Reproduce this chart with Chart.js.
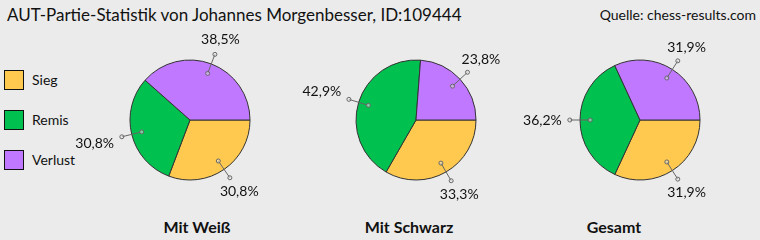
<!DOCTYPE html>
<html><head><meta charset="utf-8">
<script src="https://cdn.jsdelivr.net/npm/chart.js@4/dist/chart.umd.min.js"></script>
<style>
html,body{margin:0;padding:0;background:#ebebeb;width:760px;height:240px;overflow:hidden;font-family:Lato,"Open Sans",sans-serif;color:#111}
.abs{position:absolute;white-space:nowrap}
#title{left:7px;top:4px;font-size:17px;}
#source{right:4px;top:6px;font-size:14px;}
.cap{font-size:16px;font-weight:bold;top:217px;transform:translateX(-50%)}
.lg{left:4px;width:20px;height:20px;box-sizing:border-box;border:1px solid #111}
.lt{left:32px;font-size:14px;line-height:20px}
canvas{position:absolute}
</style></head>
<body>
<div id="title" class="abs">AUT-Partie-Statistik von Johannes Morgenbesser, ID:109444</div>
<div id="source" class="abs">Quelle: chess-results.com</div>
<div id="legend"></div>
<div id="caps"></div>
<div id="wrap"></div>
<script>
const categories = ['Sieg', 'Remis', 'Verlust'];
const chartTitles = ['Mit Weiß', 'Mit Schwarz', 'Gesamt'];
const weissValues = [30.8, 30.8, 38.5];
const schwarzValues = [33.3, 42.9, 23.8];
const gesamtValues = [31.9, 36.2, 31.9];
const colors = ['#FFC94F', '#00C04F', '#BF78FF'];

const seriesList = [weissValues, schwarzValues, gesamtValues];
const pieCenters = [190, 416, 640];
const captionCenters = [197, 409, 614];
const pieCY = 120, CW = 260, CH = 220;

// legend
const legend = document.getElementById('legend');
categories.forEach((c, i) => {
  const b = document.createElement('div');
  b.className = 'abs lg'; b.style.top = (70 + i * 40) + 'px'; b.style.background = colors[i];
  legend.appendChild(b);
  const t = document.createElement('div');
  t.className = 'abs lt'; t.style.top = (70 + i * 40) + 'px'; t.textContent = c;
  legend.appendChild(t);
});
// captions
const caps = document.getElementById('caps');
chartTitles.forEach((c, i) => {
  const d = document.createElement('div');
  d.className = 'abs cap'; d.style.left = captionCenters[i] + 'px'; d.textContent = c;
  caps.appendChild(d);
});

const fmt = v => v.toFixed(1).replace('.', ',') + '%';

const leaderLabels = {
  id: 'leaderLabels',
  afterDatasetsDraw(chart) {
    const ctx = chart.ctx;
    const meta = chart.getDatasetMeta(0);
    const ds = chart.data.datasets[0];
    ctx.save();
    ctx.font = '14px Lato, "Open Sans", sans-serif';
    meta.data.forEach((arc, i) => {
      const p = arc.getProps(['x', 'y', 'startAngle', 'endAngle', 'outerRadius'], true);
      const mid = (p.startAngle + p.endAngle) / 2;
      const c = Math.cos(mid), s = Math.sin(mid);
      const r1 = p.outerRadius * 0.83, r2 = p.outerRadius * 1.17;
      const x1 = p.x + c * r1, y1 = p.y + s * r1, x2 = p.x + c * r2, y2 = p.y + s * r2;
      ctx.strokeStyle = '#666'; ctx.lineWidth = 1;
      ctx.beginPath(); ctx.moveTo(x1, y1); ctx.lineTo(x2, y2); ctx.stroke();
      [[x1, y1], [x2, y2]].forEach(([px, py]) => {
        ctx.beginPath(); ctx.arc(px, py, 2, 0, 2 * Math.PI);
        ctx.fillStyle = 'rgba(235,235,235,0.5)'; ctx.fill(); ctx.stroke();
      });
      const text = fmt(ds.data[i]);
      const hw = ctx.measureText(text).width / 2, hh = 7, g = 8;
      const t = g + Math.min(hw / Math.max(Math.abs(c), 1e-6), hh / Math.max(Math.abs(s), 1e-6));
      ctx.fillStyle = '#111'; ctx.textAlign = 'center'; ctx.textBaseline = 'middle';
      ctx.fillText(text, x2 + c * t, y2 + s * t);
    });
    ctx.restore();
  }
};

const wrap = document.getElementById('wrap');
seriesList.forEach((vals, k) => {
  const cv = document.createElement('canvas');
  cv.width = CW; cv.height = CH;
  cv.style.left = (pieCenters[k] - CW / 2) + 'px';
  cv.style.top = (pieCY - CH / 2) + 'px';
  cv.style.width = CW + 'px'; cv.style.height = CH + 'px';
  wrap.appendChild(cv);
  new Chart(cv, {
    type: 'pie',
    data: {
      labels: categories,
      datasets: [{
        data: vals,
        backgroundColor: colors,
        borderColor: '#333',
        borderWidth: 1
      }]
    },
    options: {
      responsive: false,
      animation: false,
      events: [],
      rotation: 90,
      radius: 60,
      layout: { padding: 0 },
      plugins: { legend: { display: false }, tooltip: { enabled: false }, title: { display: false } }
    },
    plugins: [leaderLabels]
  });
});
</script>
</body></html>
